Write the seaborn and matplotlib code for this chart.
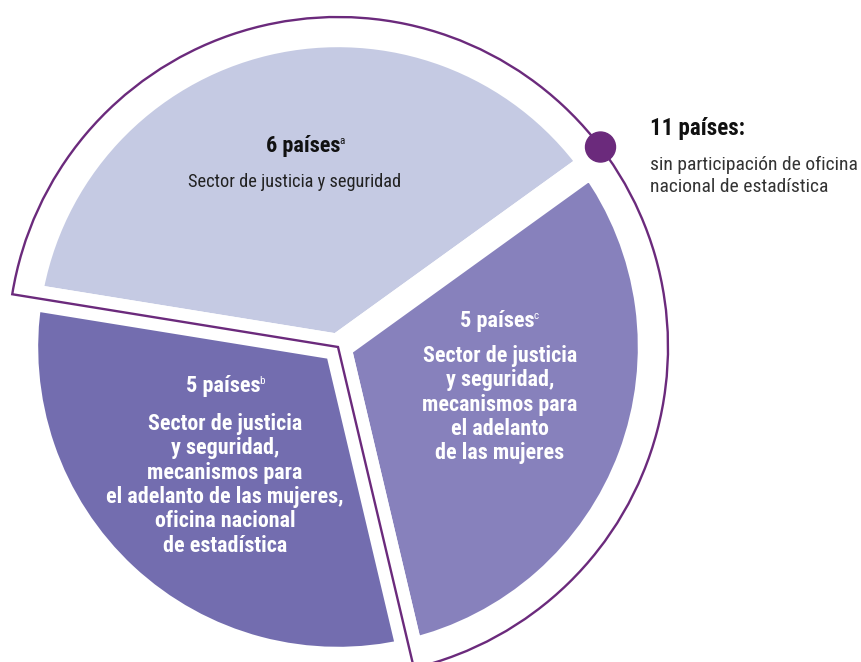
import numpy as np
import matplotlib
matplotlib.use("Agg")
import matplotlib.pyplot as plt
from matplotlib import font_manager
from matplotlib.patches import Wedge, Circle
import seaborn as sns

# data: countries per type of participating institutions
countries = [6, 5, 5]
notes = ["a", "c", "b"]
slice_colors = ["#C5CAE3", "#8781BC", "#736DAF"]
top_lines = ["Sector de justicia y seguridad"]
br_lines = ["Sector de justicia", "y seguridad,", "mecanismos para", "el adelanto", "de las mujeres"]
bl_lines = ["Sector de justicia", "y seguridad,", "mecanismos para",
            "el adelanto de las mujeres,", "oficina nacional", "de estadística"]
no_office_total = countries[0] + countries[1]
no_office_lines = ["sin participación de oficina", "nacional de estadística"]

purple = "#6B2A7C"

sns.set_theme(style="white")
avail = {f.name for f in font_manager.fontManager.ttflist}
fam = "Roboto"
for cand in ["Roboto Condensed", "Liberation Sans Narrow", "Open Sans Condensed", "Roboto"]:
    if cand in avail:
        fam = cand
        break
plt.rcParams["font.family"] = [fam, "DejaVu Sans"]

W, H = 861, 662
fig = plt.figure(figsize=(W / 100, H / 100), dpi=100)
ax = fig.add_axes([0, 0, 1, 1])

cx, cy = 338, H - 347
start = 170.8
ax.pie(countries, colors=slice_colors, startangle=start, counterclock=False,
       center=(cx, cy), radius=313,
       wedgeprops=dict(edgecolor="white", linewidth=19, joinstyle="miter"))

# outline around the 11 countries without statistics office
th2 = start
th1 = start - 360 * no_office_total / sum(countries)
ax.add_patch(Wedge((cx, cy), 330, th1, th2, fill=False, edgecolor=purple,
                   linewidth=1.7, zorder=5))
ang = np.deg2rad(start - 360 * countries[0] / sum(countries) + 1.5)
ax.add_patch(Circle((cx + 330 * np.cos(ang), cy + 330 * np.sin(ang)), 15,
                    color=purple, zorder=6))

ax.set_xlim(0, W)
ax.set_ylim(0, H)
ax.set_aspect("equal")
ax.axis("off")

renderer = fig.canvas.get_renderer()


def head(x, y, n, sup, color):
    t = ax.text(x, H - y, f"{n} países", ha="center", va="center",
                fontsize=16, fontweight="bold", color=color, zorder=7)
    bb = t.get_window_extent(renderer)
    ax.text(bb.x1 - 0.5, bb.y1 - 1, sup, ha="left", va="top", fontsize=8,
            color=color, zorder=7)


def body(x, y, lines, color, weight, size):
    for i, s in enumerate(lines):
        ax.text(x, H - (y + i * 24.3), s, ha="center", va="center", fontsize=size,
                fontweight=weight, color=color, zorder=7)


head(303, 146, countries[0], notes[0], "#111111")
body(295, 182, top_lines, "#222222", "normal", 13.2)
head(497, 321, countries[1], notes[1], "white")
body(500, 356, br_lines, "white", "bold", 15.8)
head(223, 386, countries[2], notes[2], "white")
body(225, 424, bl_lines, "white", "bold", 15.8)

ax.text(650, H - 128, f"{no_office_total} países:", ha="left", va="center",
        fontsize=16.5, fontweight="bold", color="#111111")
for i, s in enumerate(no_office_lines):
    ax.text(650, H - (165 + i * 22.5), s, ha="left", va="center", fontsize=14,
            color="#333333")

fig.savefig("out.png", dpi=100)
